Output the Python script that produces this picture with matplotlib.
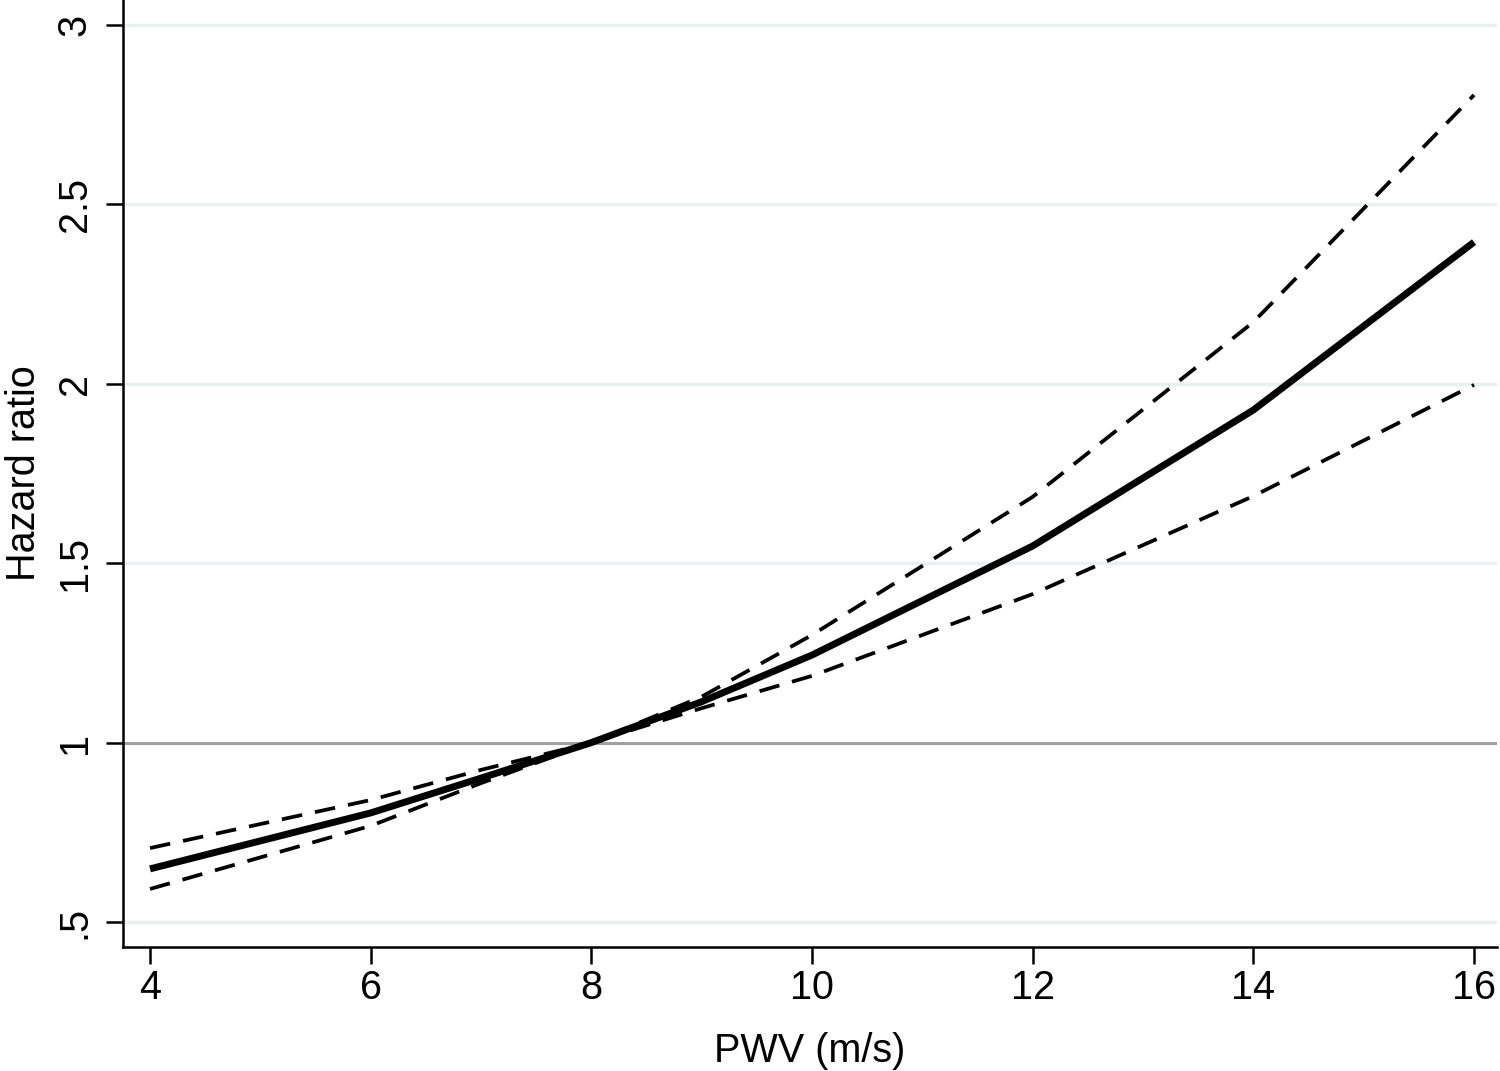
import matplotlib
matplotlib.use("Agg")
import matplotlib.pyplot as plt

plt.rcParams['font.family'] = ['Liberation Sans', 'DejaVu Sans']

pwv = [4, 6, 7, 8, 9, 10, 12, 14, 16]
hr = [0.648, 0.804, 0.901, 1.0, 1.114, 1.244, 1.548, 1.927, 2.395]
upper = [0.706, 0.84, 0.924, 1.0, 1.128, 1.30, 1.685, 2.172, 2.805]
lower = [0.592, 0.768, 0.887, 1.0, 1.096, 1.186, 1.414, 1.687, 1.997]

xticks = [4, 6, 8, 10, 12, 14, 16]
yticks = [0.5, 1, 1.5, 2, 2.5, 3]
ytick_labels = [".5", "1", "1.5", "2", "2.5", "3"]
grid_levels = [0.5, 1.5, 2, 2.5, 3]

fig = plt.figure(figsize=(15, 10.71), dpi=100)
ax = fig.add_axes([123/1500, 1 - 947/1071, (1497-123)/1500, 947/1071])

for g in grid_levels:
    ax.axhline(g, color='#e8f0f2', lw=2.5, zorder=1)
ax.axhline(1, color='#a0a0a0', lw=2.2, zorder=2)

ax.plot(pwv, upper, color='black', lw=2.7, dashes=(5.5, 3.5), zorder=3)
ax.plot(pwv, lower, color='black', lw=2.7, dashes=(5.5, 3.5), zorder=3)
ax.plot(pwv, hr, color='black', lw=5, zorder=4, solid_capstyle='butt')

ax.set_xlim(3.755, 16.208)
ax.set_ylim(0.4303, 3.0697)

ax.set_xticks(xticks)
ax.set_xticklabels([str(t) for t in xticks])
ax.set_yticks(yticks)
ax.set_yticklabels(ytick_labels, rotation=90, va='center')

for s in ['top', 'right']:
    ax.spines[s].set_visible(False)
for s in ['left', 'bottom']:
    ax.spines[s].set_linewidth(1.8)

ax.tick_params(axis='both', length=12, width=1.8, labelsize=28.5, direction='out')
ax.tick_params(axis='x', pad=4)
ax.tick_params(axis='y', pad=9)

ax.set_xlabel("PWV (m/s)", fontsize=28.5, labelpad=18)
ax.set_ylabel("Hazard ratio", fontsize=28.5, labelpad=9)

fig.savefig("out.png", dpi=100, facecolor='white')
